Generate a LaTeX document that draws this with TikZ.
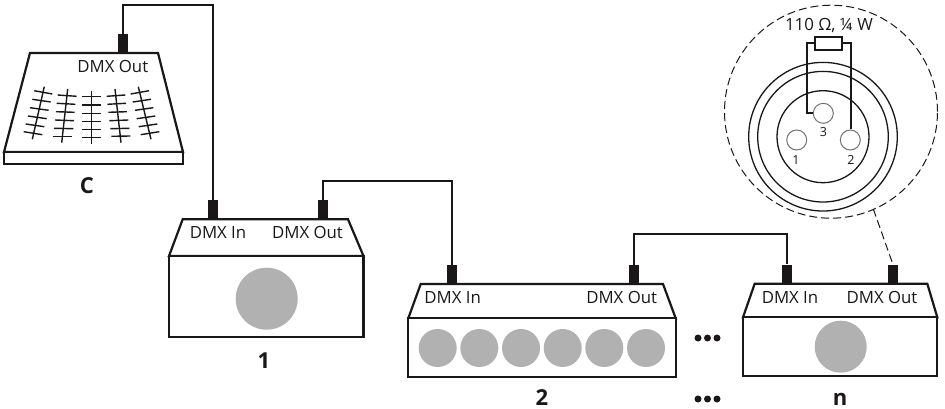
\documentclass[tikz,border=0pt]{standalone}
\usepackage{fontspec}
\setmainfont{Open Sans}
\definecolor{ink}{HTML}{1A1718}
\definecolor{lamp}{HTML}{B1B1B1}
\tikzset{
  unit/.style={draw=ink,line width=2.2pt,fill=white,line join=miter},
  plug/.style={fill=ink,inner sep=0pt,minimum width=9.6pt,minimum height=19pt,anchor=south},
  wire/.style={draw=ink,line width=1.9pt,line join=miter},
  rung/.style={draw=ink,line width=1.4pt},
  lampdot/.style={circle,fill=lamp,inner sep=0pt},
  dmx/.style={inner sep=0pt,anchor=base,font=\fontsize{16.8}{19}\selectfont,text=ink},
  caption/.style={inner sep=0pt,anchor=base,font=\fontsize{22}{25}\selectfont\bfseries,text=ink},
  ring/.style={draw=ink,line width=1.3pt},
  pin/.style={circle,draw=black!55,line width=1pt,fill=white,inner sep=0pt,minimum size=20pt},
  pinno/.style={inner sep=0pt,anchor=base,font=\fontsize{12.5}{14}\selectfont,text=ink},
  zoomline/.style={draw=ink,line width=1pt,dash pattern=on 8pt off 4pt},
  morepts/.style={circle,fill=ink,inner sep=0pt,minimum size=7pt},
}
\begin{document}
\begin{tikzpicture}[x=1pt,y=-1pt]
\useasboundingbox (0,0) rectangle (945,409);
% console
\draw[unit] (30,53) -- (158,53) -- (183,152) -- (4,152) -- cycle;
\draw[unit] (4,152) rectangle (183,164);
\foreach \a/\b/\c/\d in {44.3/86.7/32.3/139.3, 67.7/89/61.7/142.7, 91.7/90.7/91.7/144.3, 115/89/121/142.7, 138.3/86.7/151/139.3}{
  \draw[rung] (\a,\b) -- (\c,\d);}
\foreach \a/\b/\c/\d in {
 34.3/90.7/52.3/94, 32.3/99.3/50.7/102, 30/107.7/48.7/110.3, 28/116/46.7/118.7, 25.7/124/44.3/126.7, 23.7/131.7/42.3/134.7,
 57.7/95/76.7/96.3, 56.7/103.3/75.3/104.3, 56/111.7/74.7/112.3, 55/120/74/120.7, 54/128.3/73.3/128.7, 52.7/136.3/72/136.3,
 82.3/96.7/101/96.7, 82.3/105/101/105, 82.3/113.3/101/113.3, 82.3/121.7/101/121.7, 82.3/129.7/101/129.7, 82.3/137.7/101/137.7,
 106.7/96.3/125.3/95, 107.3/104.3/126/103.3, 108.3/112.3/127/111.7, 109.3/120.7/128.3/120, 110.3/128.7/129.3/128.3, 111.3/136.3/130.3/136,
 130.7/94/149/90.7, 132.7/102/151/99.3, 135/110.3/153.3/107.7, 136.7/118.7/155.3/116, 138.7/126.7/157.3/124, 140.7/134.7/159.3/131.7}{
  \draw[rung] (\a,\b) -- (\c,\d);}
\node[dmx] (tc) at (112.8,72.7) {DMX Out};
\node[caption] (capc) at (87,193.5) {C};
% unit 1
\draw[unit] (182.7,219.3) -- (348,219.3) -- (363.5,256) -- (169,256) -- cycle;
\node[unit,rectangle,minimum width=194.5pt,minimum height=80.7pt,inner sep=0pt] (b1) at (266.25,296.35) {};
\node[lampdot,minimum size=62pt] (l1) at (266.7,298.7) {};
\node[dmx] (t1a) at (218,238.7) {DMX In};
\node[dmx] (t1b) at (307.5,238.7) {DMX Out};
\node[caption] (cap1) at (264,368) {1};
% unit 2
\draw[unit] (420.7,284) -- (663,284) -- (675.7,318.3) -- (408.3,318.3) -- cycle;
\node[unit,rectangle,minimum width=267.4pt,minimum height=58.4pt,inner sep=0pt] (b2) at (542,347.5) {};
\foreach \n/\x in {a/437.7,b/479.3,c/521,d/562.7,e/604.3,f/646}{
  \node[lampdot,minimum size=38pt] (l2\n) at (\x,348) {};}
\node[dmx] (t2a) at (452.7,303.3) {DMX In};
\node[dmx] (t2b) at (621.7,303.3) {DMX Out};
\node[caption] (cap2) at (542,405.5) {2};
% unit n
\draw[unit] (754.7,283.7) -- (927.3,283.7) -- (937.3,317.3) -- (743,317.3) -- cycle;
\node[unit,rectangle,minimum width=194.3pt,minimum height=58.7pt,inner sep=0pt] (bn) at (840.15,346.65) {};
\node[lampdot,minimum size=52pt] (ln) at (840.7,346.7) {};
\node[dmx] (tna) at (790,303) {DMX In};
\node[dmx] (tnb) at (882,303) {DMX Out};
\node[caption] (capn) at (840,405.5) {n};
% dots
\foreach \n/\x in {a/698,b/707.5,c/717}{
  \node[morepts] (u\n) at (\x,338) {};
  \node[morepts] (v\n) at (\x,399) {};}
% plugs
\node[plug] (pc) at (123,53) {};
\node[plug] (p1a) at (213,219.3) {};
\node[plug] (p1b) at (323,219.3) {};
\node[plug] (p2a) at (452,284) {};
\node[plug] (p2b) at (634,284) {};
\node[plug] (pna) at (787,283.7) {};
\node[plug] (pnb) at (893,284) {};
% wires
\coordinate (w1) at (123,5);
\coordinate (w2) at (323,180.7);
\coordinate (w3) at (634,234.3);
\draw[wire] (pc.north) -- (w1) -| (p1a.north);
\draw[wire] (p1b.north) -- (w2) -| (p2a.north);
\draw[wire] (p2b.north) -- (w3) -| (pna.north);
% detail
\node[circle,zoomline,inner sep=0pt,minimum size=213pt] (zc) at (831,111.7) {};
\coordinate (ze) at (873.3,209);
\draw[zoomline] (ze) -- (pnb.north);
\foreach \r in {148.6,130.6,92}{
  \node[circle,ring,inner sep=0pt,minimum size=\r pt] at (823,136.7) {};}
\node[pin] (pin3) at (823.3,113.3) {};
\node[pin] (pin1) at (796.7,140) {};
\node[pin] (pin2) at (850.3,140) {};
\node[pinno] (n3) at (823.5,136.5) {3};
\node[pinno] (n1) at (796,164.5) {1};
\node[pinno] (n2) at (851,164.5) {2};
\node[draw=ink,line width=1.9pt,fill=white,inner sep=0pt,minimum width=27pt,minimum height=13.3pt] (res) at (828.8,43.3) {};
\draw[wire] (res.west) -- (806.7,43.3) |- (pin3.west);
\draw[wire] (res.east) -- (851,43.3) -- (851,129.3);
\node[inner sep=0pt,anchor=base,font=\fontsize{16.8}{19}\selectfont,text=ink] (rv) at (829,31) {110 Ω, ¼ W};
\end{tikzpicture}
\end{document}
